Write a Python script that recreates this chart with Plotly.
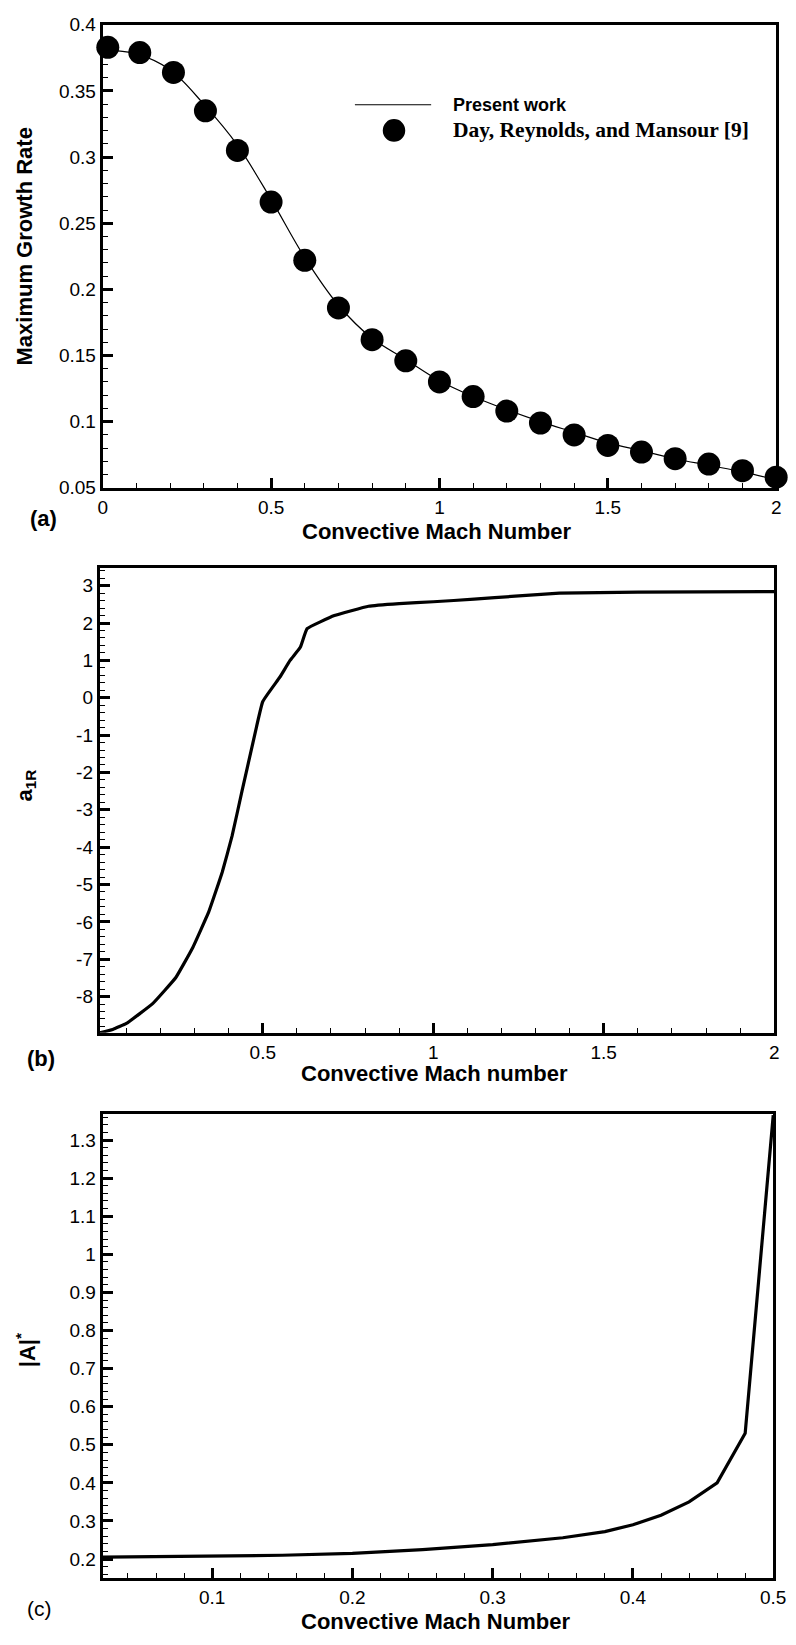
import plotly.graph_objects as go

W, H = 796, 1645

# ---------------- data ----------------
# (a) maximum growth rate vs convective Mach number
mach_line_a = [0.0, 0.1, 0.2, 0.3, 0.4, 0.5, 0.6, 0.7, 0.8, 0.9, 1.0,
               1.1, 1.2, 1.3, 1.4, 1.5, 1.6, 1.7, 1.8, 1.9, 2.0]
growth_line_a = [0.381, 0.378, 0.366, 0.340, 0.309, 0.268, 0.224, 0.188, 0.163, 0.147, 0.131,
                 0.119, 0.109, 0.100, 0.092, 0.084, 0.078, 0.072, 0.067, 0.062, 0.056]
mach_pts_a = [0.015, 0.11, 0.21, 0.305, 0.40, 0.50, 0.60, 0.70, 0.80, 0.90, 1.0,
              1.1, 1.2, 1.3, 1.4, 1.5, 1.6, 1.7, 1.8, 1.9, 2.0]
growth_pts_a = [0.383, 0.379, 0.364, 0.335, 0.305, 0.266, 0.222, 0.186, 0.162, 0.146, 0.130,
                0.119, 0.108, 0.099, 0.090, 0.082, 0.077, 0.072, 0.068, 0.063, 0.058]

# (b) a_1R vs convective Mach number
mach_b = [0.022, 0.06, 0.10, 0.177, 0.245, 0.294, 0.342, 0.381, 0.41, 0.439, 0.47, 0.50,
          0.55, 0.58, 0.61, 0.63, 0.71, 0.81, 0.9, 1.0, 1.12, 1.24, 1.37, 1.6, 2.0]
a1r_b = [-8.97, -8.88, -8.72, -8.19, -7.49, -6.70, -5.72, -4.67, -3.70, -2.50, -1.25, -0.10,
         0.55, 1.00, 1.35, 1.85, 2.20, 2.45, 2.52, 2.57, 2.64, 2.72, 2.80, 2.83, 2.84]

# (c) |A|* vs convective Mach number
mach_c = [0.022, 0.1, 0.15, 0.2, 0.25, 0.3, 0.35, 0.38, 0.40, 0.42, 0.44, 0.46, 0.48, 0.50]
amp_c = [0.205, 0.207, 0.210, 0.215, 0.225, 0.238, 0.256, 0.272, 0.290, 0.315, 0.350, 0.400, 0.530, 1.365]

# tick labels
ytv_a = [0.05, 0.1, 0.15, 0.2, 0.25, 0.3, 0.35, 0.4]
ytt_a = ["0.05", "0.1", "0.15", "0.2", "0.25", "0.3", "0.35", "0.4"]
xtv_a = [0, 0.5, 1, 1.5, 2]
xtt_a = ["0", "0.5", "1", "1.5", "2"]
ytv_b = [3, 2, 1, 0, -1, -2, -3, -4, -5, -6, -7, -8]
ytt_b = ["3", "2", "1", "0", "-1", "-2", "-3", "-4", "-5", "-6", "-7", "-8"]
xtv_b = [0.5, 1, 1.5, 2]
xtt_b = ["0.5", "1", "1.5", "2"]
ytv_c = [0.2, 0.3, 0.4, 0.5, 0.6, 0.7, 0.8, 0.9, 1.0, 1.1, 1.2, 1.3]
ytt_c = ["0.2", "0.3", "0.4", "0.5", "0.6", "0.7", "0.8", "0.9", "1", "1.1", "1.2", "1.3"]
xtv_c = [0.1, 0.2, 0.3, 0.4, 0.5]
xtt_c = ["0.1", "0.2", "0.3", "0.4", "0.5"]

SANS = "Liberation Sans, Arial, Helvetica, sans-serif"
SERIF = "Liberation Serif, Times New Roman, serif"


def xd(l, r):
    return [l / W, r / W]


def yd(t, b):
    return [1 - b / H, 1 - t / H]


def px(x):
    return x / W


def py(y):
    return 1 - y / H


fig = go.Figure()

fig.add_trace(go.Scatter(x=mach_line_a, y=growth_line_a, mode="lines",
                         line=dict(color="black", width=1.2, shape="spline"),
                         xaxis="x", yaxis="y", showlegend=False))
fig.add_trace(go.Scatter(x=mach_pts_a, y=growth_pts_a, mode="markers",
                         marker=dict(color="black", size=23, symbol="circle"),
                         cliponaxis=False, xaxis="x", yaxis="y", showlegend=False))
fig.add_trace(go.Scatter(x=mach_b, y=a1r_b, mode="lines",
                         line=dict(color="black", width=3.2, shape="spline", smoothing=0.3),
                         xaxis="x2", yaxis="y2", showlegend=False))
fig.add_trace(go.Scatter(x=mach_c, y=amp_c, mode="lines",
                         line=dict(color="black", width=3.2),
                         xaxis="x3", yaxis="y3", showlegend=False))

base = dict(showline=True, linewidth=3, linecolor="black", mirror=True,
            ticks="inside", ticklen=10, tickwidth=2.5, tickcolor="black",
            showgrid=False, zeroline=False,
            tickfont=dict(family=SANS, size=19, color="black"))


def minor(d):
    return dict(ticks="inside", ticklen=5, tickwidth=1.2, tickcolor="black",
                dtick=d, tick0=0, showgrid=False)


fig.update_layout(
    width=W, height=H, autosize=False,
    margin=dict(l=0, r=0, t=0, b=0),
    paper_bgcolor="white", plot_bgcolor="white",
    xaxis=dict(base, domain=xd(100, 789), anchor="y", range=[0, 2],
               tickvals=xtv_a, ticktext=xtt_a, minor=minor(0.1)),
    yaxis=dict(base, domain=yd(15, 484), anchor="x", range=[0.05, 0.4],
               tickvals=ytv_a, ticktext=ytt_a, minor=minor(0.01)),
    xaxis2=dict(base, domain=xd(97, 787), anchor="y2", range=[0.022, 2],
                tickvals=xtv_b, ticktext=xtt_b, minor=minor(0.1)),
    yaxis2=dict(base, domain=yd(565, 1036), anchor="x2", range=[-8.97, 3.48],
                tickvals=ytv_b, ticktext=ytt_b, minor=minor(0.2)),
    xaxis3=dict(base, domain=xd(100, 786), anchor="y3", range=[0.022, 0.5],
                tickvals=xtv_c, ticktext=xtt_c, minor=minor(0.02)),
    yaxis3=dict(base, domain=yd(1118, 1588), anchor="x3", range=[0.151, 1.369],
                tickvals=ytv_c, ticktext=ytt_c, minor=minor(0.02)),
)

ann = []


def text(x, y, s, size=22, family=SANS, angle=0, xanchor="center"):
    ann.append(dict(x=px(x), y=py(y), xref="paper", yref="paper", text=s,
                    showarrow=False, textangle=angle, xanchor=xanchor, yanchor="middle",
                    font=dict(family=family, size=size, color="black")))


# axis titles
text(20, 240, "<b>Maximum Growth Rate</b>", angle=-90)
text(441, 528, "<b>Convective Mach Number</b>")
text(21, 786, "<b>a<sub>1R</sub></b>", angle=-90)
text(439, 1077, "<b>Convective Mach number</b>")
text(21, 1358, "<b>|A|<sup>*</sup></b>", angle=-90)
text(440, 1632, "<b>Convective Mach Number</b>")

# panel labels
text(39, 515, "<b>(a)</b>", size=22)
text(37, 1062, "<b>(b)</b>", size=22)
text(35, 1619, "(c)", size=21)

# legend text
text(456, 96, "<b>Present work</b>", size=18, xanchor="left")
text(456, 122, "<b>Day, Reynolds, and Mansour [9]</b>", size=21.5, family=SERIF, xanchor="left")

fig.update_layout(annotations=ann)

# legend keys
r = 11.5
fig.update_layout(shapes=[
    dict(type="line", xref="paper", yref="paper", x0=px(358), x1=px(436), y0=py(96), y1=py(96),
         line=dict(color="black", width=1.2)),
    dict(type="circle", xref="paper", yref="paper", x0=px(398 - r), x1=px(398 + r),
         y0=py(122 + r), y1=py(122 - r), fillcolor="black", line=dict(color="black", width=0)),
])

fig.write_html("out.html",
               config={"displayModeBar": False},
               post_script="document.body.style.margin='0';document.body.style.overflow='hidden';")
